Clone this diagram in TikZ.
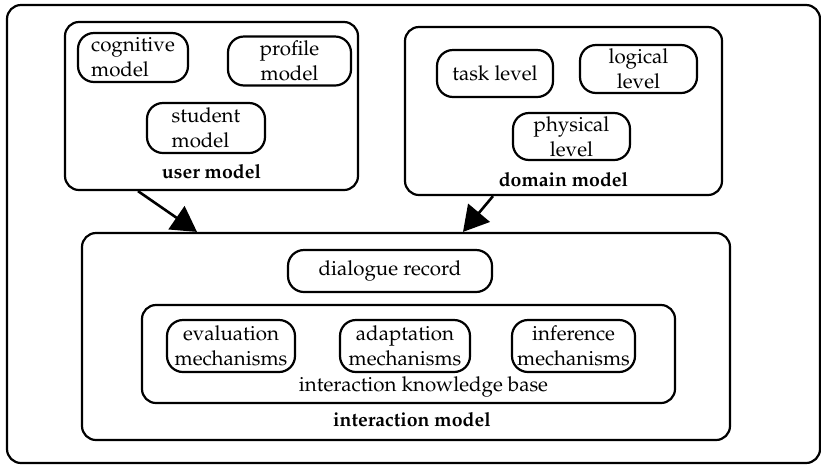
\documentclass[tikz,border=0pt]{standalone}
\usepackage[T1]{fontenc}
\usepackage{mathpazo}
\usetikzlibrary{positioning,arrows.meta}
\newcommand{\ModelFont}{\fontsize{20.5pt}{25pt}\selectfont}
\newcommand{\TitleFont}{\fontsize{19.5pt}{24pt}\selectfont}
\tikzset{
  framebox/.style={
    draw, line width=2.2pt, rounded corners=14pt, inner sep=0pt
  },
  partbox/.style={
    draw, line width=2.2pt, rounded corners=16pt, inner sep=0pt,
    align=center, font=\ModelFont
  },
  modeltitle/.style={font=\TitleFont\bfseries, inner sep=0pt, anchor=base},
  kbtitle/.style={font=\ModelFont, inner sep=0pt, anchor=base},
  flow/.style={
    line width=2.6pt, -{Triangle[length=25pt,width=28pt]}
  }
}

\begin{document}
\begin{tikzpicture}[x=1pt, y=-1pt]
  \useasboundingbox (0,0) rectangle (821,467);

  % outer frame
  \node[framebox, minimum width=813pt, minimum height=458pt] (system) at (413.5,234) {};

  % user model
  \node[framebox, minimum width=293pt, minimum height=168pt] (user) at (211.5,106) {};
  \node[partbox, minimum width=110pt, minimum height=49pt, align=left] (cognitive) at (133,57.5) {cognitive\\model};
  \node[partbox, minimum width=123pt, minimum height=49pt] (profile) at (289.5,61) {profile\\model};
  \node[partbox, minimum width=118pt, minimum height=50pt, align=left] (student) at (206,128) {student\\model};
  \node[modeltitle] (usertitle) at ([yshift=13pt]user.south) {user model};

  % domain model
  \node[framebox, minimum width=317pt, minimum height=168pt] (domain) at (563.5,111) {};
  \node[partbox, minimum width=116pt, minimum height=47pt] (task) at (495,73.5) {task level};
  \node[partbox, minimum width=117pt, minimum height=48pt] (logical) at (638.5,69) {logical\\level};
  \node[partbox, minimum width=117pt, minimum height=47pt] (physical) at (571.5,136.5) {physical\\level};
  \node[modeltitle] (domaintitle) at ([yshift=10pt]domain.south) {domain model};

  % interaction model
  \node[framebox, minimum width=648pt, minimum height=207pt] (interaction) at (406,336.5) {};
  \node[partbox, minimum width=204pt, minimum height=42pt] (record) at (390,271) {dialogue record};
  \node[framebox, minimum width=533pt, minimum height=98pt] (kb) at (408.5,354) {};
  \node[partbox, minimum width=128pt, minimum height=52pt] (evaluation) at (231,346) {evaluation\\mechanisms};
  \node[partbox, minimum width=130pt, minimum height=52pt] (adaptation) at (405,346) {adaptation\\mechanisms};
  \node[partbox, minimum width=123pt, minimum height=52pt] (inference) at (573.5,346) {inference\\mechanisms};
  \node[kbtitle] (kbtitle) at ([xshift=15pt,yshift=13pt]kb.south) {interaction knowledge base};
  \node[modeltitle] (interactiontitle) at ([xshift=6pt,yshift=15pt]interaction.south) {interaction model};

  \draw[flow] ([xshift=-73.5pt]user.south) -- ([xshift=-209pt]interaction.north);
  \draw[flow] ([xshift=-70.5pt]domain.south) -- ([xshift=57pt]interaction.north);
\end{tikzpicture}
\end{document}
